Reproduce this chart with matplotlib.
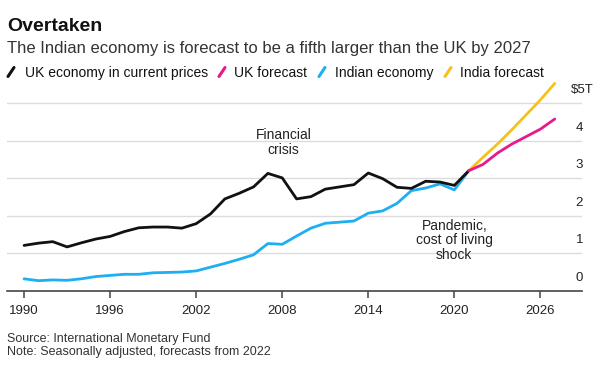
import matplotlib
matplotlib.use("Agg")
import matplotlib.pyplot as plt
from matplotlib.lines import Line2D

plt.rcParams['font.family'] = ['Liberation Sans', 'DejaVu Sans']

# ---------------- data ----------------
years = list(range(1990, 2022))
uk_gdp = [1.21, 1.27, 1.31, 1.17, 1.28, 1.38, 1.45, 1.58, 1.68, 1.70, 1.70, 1.67,
          1.79, 2.05, 2.45, 2.60, 2.77, 3.13, 3.01, 2.45, 2.51, 2.71, 2.77, 2.83,
          3.14, 2.99, 2.76, 2.73, 2.92, 2.90, 2.81, 3.20]
india_gdp = [0.32, 0.27, 0.29, 0.28, 0.32, 0.38, 0.41, 0.44, 0.44, 0.48, 0.49, 0.50,
             0.53, 0.63, 0.73, 0.84, 0.96, 1.26, 1.24, 1.46, 1.67, 1.80, 1.83, 1.86,
             2.07, 2.13, 2.33, 2.67, 2.74, 2.85, 2.69, 3.20]
fc_years = list(range(2021, 2028))
uk_fc = [3.20, 3.37, 3.67, 3.91, 4.11, 4.31, 4.58]
india_fc = [3.20, 3.56, 3.91, 4.29, 4.69, 5.09, 5.53]

x_ticks = [1990, 1996, 2002, 2008, 2014, 2020, 2026]
y_ticks = [0, 1, 2, 3, 4, 5]
y_labels = ["0", "1", "2", "3", "4", "$5T"]

legend_labels = ["UK economy in current prices", "UK forecast", "Indian economy", "India forecast"]
colors = ["#111111", "#e8198b", "#1eaef2", "#f4c21c"]

title = "Overtaken"
subtitle = "The Indian economy is forecast to be a fifth larger than the UK by 2027"
source = "Source: International Monetary Fund"
note = "Note: Seasonally adjusted, forecasts from 2022"

# ---------------- layout ----------------
W, H = 600, 365
fig = plt.figure(figsize=(W / 100, H / 100), dpi=100)

def fx(px):
    return px / W

def fy(py):
    return 1 - py / H

ax_left, ax_right, ax_bottom, ax_top = 7, 582, 290.8, 80
ax = fig.add_axes([fx(ax_left), fy(ax_bottom), (ax_right - ax_left) / W, (ax_bottom - ax_top) / H])
ax.set_xlim(1988.81, 2028.9)
ax.set_ylim(0, 5.62)

for v in y_ticks[1:]:
    ax.axhline(v, color="#dcdcdc", lw=1.0, zorder=1)

lw = 2.0
ax.plot(years, india_gdp, color=colors[2], lw=lw, zorder=3, solid_capstyle='round', solid_joinstyle='round')
ax.plot(years, uk_gdp, color=colors[0], lw=lw, zorder=4, solid_capstyle='round', solid_joinstyle='round')
ax.plot(fc_years, india_fc, color=colors[3], lw=lw, zorder=3, solid_capstyle='round', solid_joinstyle='round')
ax.plot(fc_years, uk_fc, color=colors[1], lw=lw, zorder=4, solid_capstyle='round', solid_joinstyle='round')

for s in ["top", "right", "left"]:
    ax.spines[s].set_visible(False)
ax.spines["bottom"].set_color("#444444")
ax.spines["bottom"].set_linewidth(1.2)
ax.set_yticks([])
ax.set_xticks(x_ticks)
ax.set_xticklabels([str(t) for t in x_ticks])
ax.tick_params(axis='x', length=5, width=1.1, color="#444444", labelsize=9.5,
               labelcolor="#222222", pad=5)

for v, lab in zip(y_ticks, y_labels):
    ax.annotate(lab, xy=(1.0, v), xycoords=('axes fraction', 'data'),
                xytext=(0.8 if v < 5 else 8.2, 9.3), textcoords='offset points',
                ha='right', va='center', fontsize=9.5, color="#222222")

# annotations
ax.text(2008.1, 3.95, "Financial\ncrisis", ha='center', va='center', fontsize=10,
        color="#222222", linespacing=1.1)
ax.text(2020.0, 1.35, "Pandemic,\ncost of living\nshock", ha='center', va='center',
        fontsize=10, color="#222222", linespacing=1.05)

# titles
fig.text(fx(7), fy(30.7), title, fontsize=14, fontweight='bold', color="#111111", va='baseline')
fig.text(fx(7), fy(53.3), subtitle, fontsize=12, color="#333333", va='baseline')

# legend
leg_slash_x = [8, 219, 319, 445]
leg_text_x = [25, 234, 335, 460]
for sx, tx, lab, c in zip(leg_slash_x, leg_text_x, legend_labels, colors):
    fig.add_artist(Line2D([fx(sx), fx(sx + 6)], [fy(76.5), fy(67.5)], color=c, lw=2.2,
                          solid_capstyle='round'))
    fig.text(fx(tx), fy(77.3), lab, fontsize=10, color="#111111", va='baseline')

fig.text(fx(7), fy(341.7), source, fontsize=9, color="#333333", va='baseline')
fig.text(fx(7), fy(355), note, fontsize=9, color="#333333", va='baseline')

fig.savefig("out.png", dpi=100, facecolor='white')
